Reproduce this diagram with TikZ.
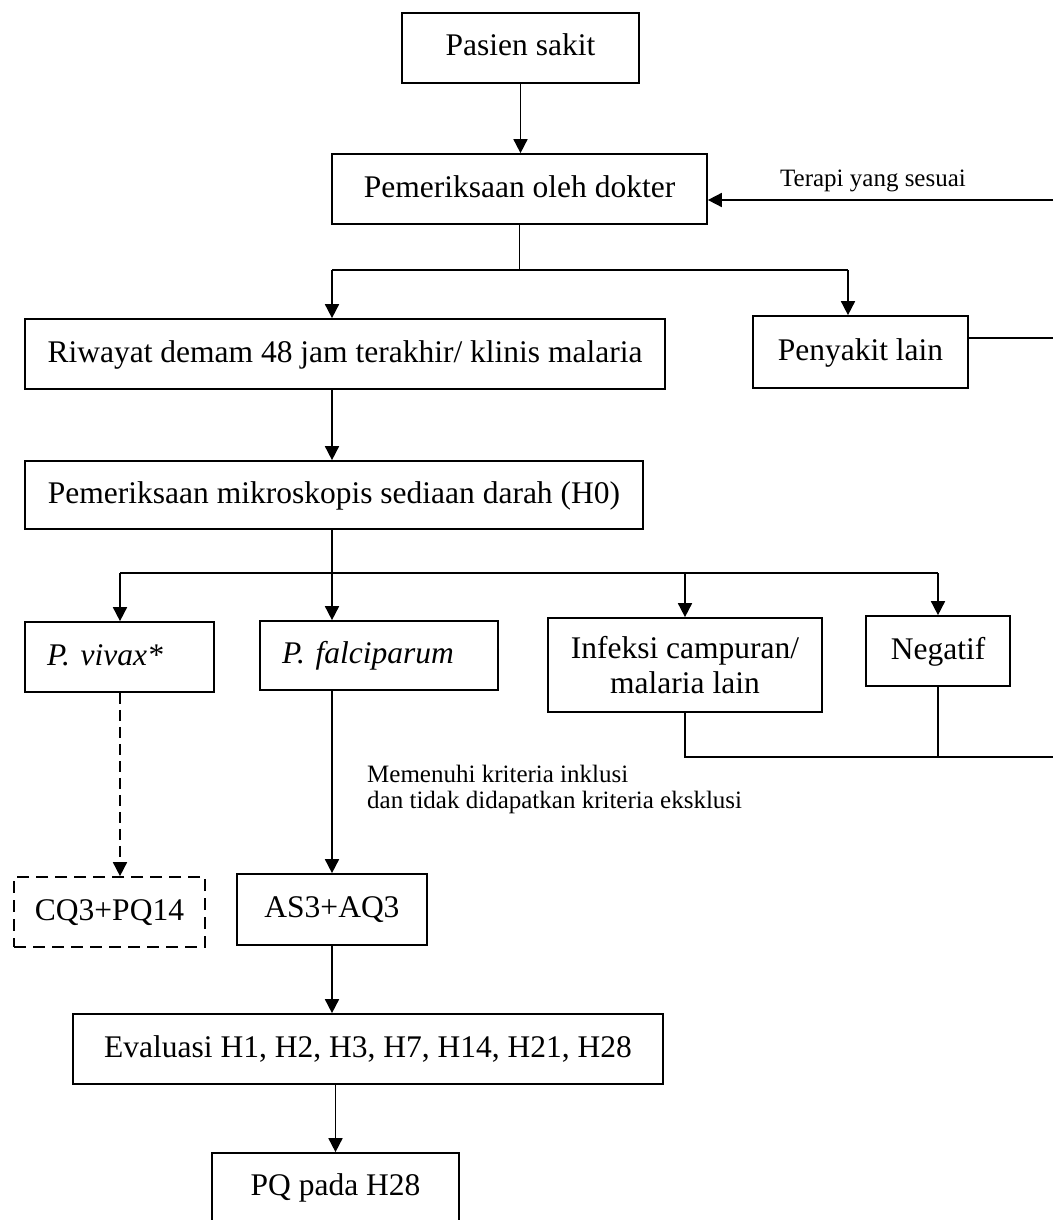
\documentclass[tikz,border=0pt]{standalone}
\usepackage{fontspec}
\setmainfont{Liberation Serif}
\usetikzlibrary{arrows.meta}
\begin{document}
\begin{tikzpicture}[x=1pt,y=-1pt,
  ln/.style={line width=1.7pt},
  arr/.style={line width=1.7pt,-{Triangle[length=14pt,width=14pt]}},
  box/.style={draw,line width=1.7pt,inner sep=0pt,font=\fontsize{31.5}{35}\selectfont},
  one/.style={text height=22pt,text depth=6pt},
  lbox/.style={box,one,align=left},
  dbox/.style={box,one,dash pattern=on 12pt off 7pt},
  lbl/.style={inner sep=0pt,font=\fontsize{25}{26}\selectfont}]
\useasboundingbox (0,0) rectangle (1053,1220);
\fill[white] (0,0) rectangle (1053,1220);

% boxes
\node[box,one,minimum width=237pt,minimum height=70pt] (pasien) at (520.5,48) {Pasien sakit};
\node[box,one,minimum width=375pt,minimum height=70pt] (dokter) at (519.5,189) {Pemeriksaan oleh dokter};
\node[box,one,minimum width=640pt,minimum height=70pt] (riwayat) at (345,354) {Riwayat demam 48 jam terakhir/ klinis malaria};
\node[box,one,minimum width=215pt,minimum height=72pt] (lain) at (860.5,352) {Penyakit lain};
\node[box,one,minimum width=618pt,minimum height=68pt] (mikro) at (334,495) {Pemeriksaan mikroskopis sediaan darah (H0)};
\node[lbox,minimum width=189pt,minimum height=70pt,text width=145pt] (vivax) at (119.5,657) {\itshape P. vivax*};
\node[lbox,minimum width=238pt,minimum height=69pt,text width=194pt] (falc) at (379,655.5) {\itshape P. falciparum};
\node[box,minimum width=274pt,minimum height=94pt,align=center] (infeksi) at (685,665) {Infeksi campuran/\\malaria lain};
\node[box,one,minimum width=144pt,minimum height=70pt] (neg) at (938,651) {Negatif};
\node[dbox,minimum width=191pt,minimum height=70pt] (cq) at (109.5,912) {CQ3+PQ14};
\node[box,one,minimum width=190pt,minimum height=71pt] (as) at (332,909.5) {AS3+AQ3};
\node[box,one,minimum width=590pt,minimum height=70pt] (eval) at (368,1049) {Evaluasi H1, H2, H3, H7, H14, H21, H28};
\node[box,one,minimum width=247pt,minimum height=69pt] (pq) at (335.5,1187.5) {PQ pada H28};

% labels
\node[lbl] (terapi) at (873,181) {Terapi yang sesuai};
\node[lbl,anchor=north west,align=left] (crit) at (367,765) {Memenuhi kriteria inklusi\\dan tidak didapatkan kriteria eksklusi};

% free ends at right edge
\coordinate (rt1) at (1053,200);
\coordinate (rt2) at (1053,338);
\coordinate (rt3) at (1053,757);
% junctions
\coordinate (b1L) at (332,270);
\coordinate (b1R) at (848,270);
\coordinate (b2L) at (120,573);
\coordinate (b2F) at (332,573);
\coordinate (b2I) at (685,573);
\coordinate (b2R) at (938,573);

% connectors
\draw[arr] (pasien.south) -- (pasien.south |- dokter.north);
\draw[arr] (rt1) -- (rt1 -| dokter.east);
\draw[ln] (dokter.south) -- (dokter.south |- b1L);
\draw[ln] (b1L) -- (b1R);
\draw[arr] (b1L) -- (b1L |- riwayat.north);
\draw[arr] (b1R) -- (b1R |- lain.north);
\draw[ln] (rt2 -| lain.east) -- (rt2);
\draw[arr] (riwayat.south -| b1L) -- (mikro.north -| b1L);
\draw[ln] (mikro.south -| b2F) -- (b2F);
\draw[ln] (b2L) -- (b2R);
\draw[arr] (b2L) -- (b2L |- vivax.north);
\draw[arr] (b2F) -- (b2F |- falc.north);
\draw[arr] (b2I) -- (infeksi.north);
\draw[arr] (b2R) -- (neg.north);
\draw[ln] (infeksi.south) -- (infeksi.south |- rt3) -- (rt3);
\draw[ln] (neg.south) -- (neg.south |- rt3);
\draw[arr,dash pattern=on 11pt off 6pt] (vivax.south -| b2L) -- (cq.north -| b2L);
\draw[arr] (falc.south -| b2F) -- (as.north -| b2F);
\draw[arr] (as.south) -- (as.south |- eval.north);
\draw[arr] (eval.south -| pq.north) -- (pq.north);
\end{tikzpicture}
\end{document}
